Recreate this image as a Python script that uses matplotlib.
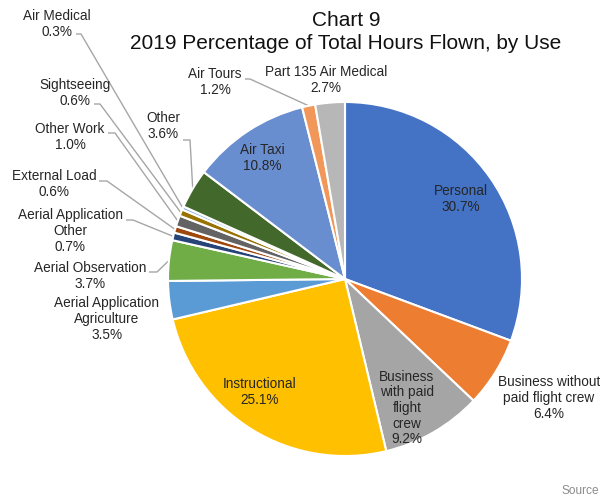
import numpy as np
import matplotlib
matplotlib.use('Agg')
import matplotlib.pyplot as plt

#### DATA #######################################
USES = ['Personal', 'Business without\npaid flight crew', 'Business\nwith paid\nflight\ncrew',
        'Instructional', 'Aerial Application\nAgriculture', 'Aerial Observation',
        'Aerial Application\nOther', 'External Load', 'Other Work', 'Sightseeing',
        'Air Medical', 'Other', 'Air Taxi', 'Air Tours', 'Part 135 Air Medical']
PCT = [30.7, 6.4, 9.2, 25.1, 3.5, 3.7, 0.7, 0.6, 1.0, 0.6, 0.3, 3.6, 10.8, 1.2, 2.7]

COLORS = ['#4472C4', '#ED7D31', '#A5A5A5', '#FFC000', '#5B9BD5', '#70AD47',
          '#264478', '#9E480E', '#636363', '#997300', '#8FB4E3', '#43682B',
          '#698ED0', '#F1975A', '#B7B7B7']

#### LAYOUT (pixels, y from top) ################
W, H = 600, 496
CX, CY, R = 345, 279, 177

# label centre, and where the leader line starts (None = no leader)
LABEL_POS = [(461, 199), (549, 398), (407, 408), (260, 392), (107, 319), (90, 276),
             (70, 231), (54, 184), (70, 137), (75, 93), (57, 24), (163, 126),
             (262, 158), (215, 82), (326, 80)]
LEADER = [None, None, None, None, None, (149, 272, 157),
          (126, 220, 133), (99, 181, 107), (108, 133, 115), (94, 104, 100),
          (76, 34, 81), (183, 140, 190), None, (245, 79, 250), None]

plt.rcParams['font.family'] = ['Liberation Sans', 'DejaVu Sans']


def fy(y):
    return H - y


fig = plt.figure(figsize=(6, 4.96), dpi=100)
ax = fig.add_axes([0, 0, 1, 1])

wedges, _ = ax.pie(PCT, colors=COLORS, startangle=90, counterclock=False,
                   center=(CX, fy(CY)), radius=R,
                   wedgeprops=dict(edgecolor='white', linewidth=1.5))

ax.set_xlim(0, W)
ax.set_ylim(0, H)
ax.set_aspect('equal')
ax.axis('off')

for i, w in enumerate(wedges):
    name = USES[i]
    lx, ly = LABEL_POS[i]
    ax.text(lx, fy(ly), '%s\n%.1f%%' % (name, PCT[i]), ha='center', va='center',
            fontsize=9.8, color='#262626', linespacing=1.15)
    if LEADER[i] is not None:
        x0, y0, x1 = LEADER[i]
        mid = np.deg2rad((w.theta1 + w.theta2) / 2.0)
        ex = CX + R * np.cos(mid)
        ey = fy(CY) + R * np.sin(mid)
        ax.plot([x0, x1, ex], [fy(y0), fy(y0), ey], color='#A6A6A6', lw=1.0,
                solid_capstyle='butt', zorder=0.5)

ax.text(346, fy(32), 'Chart 9\n2019 Percentage of Total Hours Flown, by Use',
        ha='center', va='center', fontsize=15, color='#111111', linespacing=1.27)
ax.text(562, fy(491), 'Source', ha='left', va='center', fontsize=8.6, color='#8c8c8c')

fig.savefig('out.png', dpi=100)
